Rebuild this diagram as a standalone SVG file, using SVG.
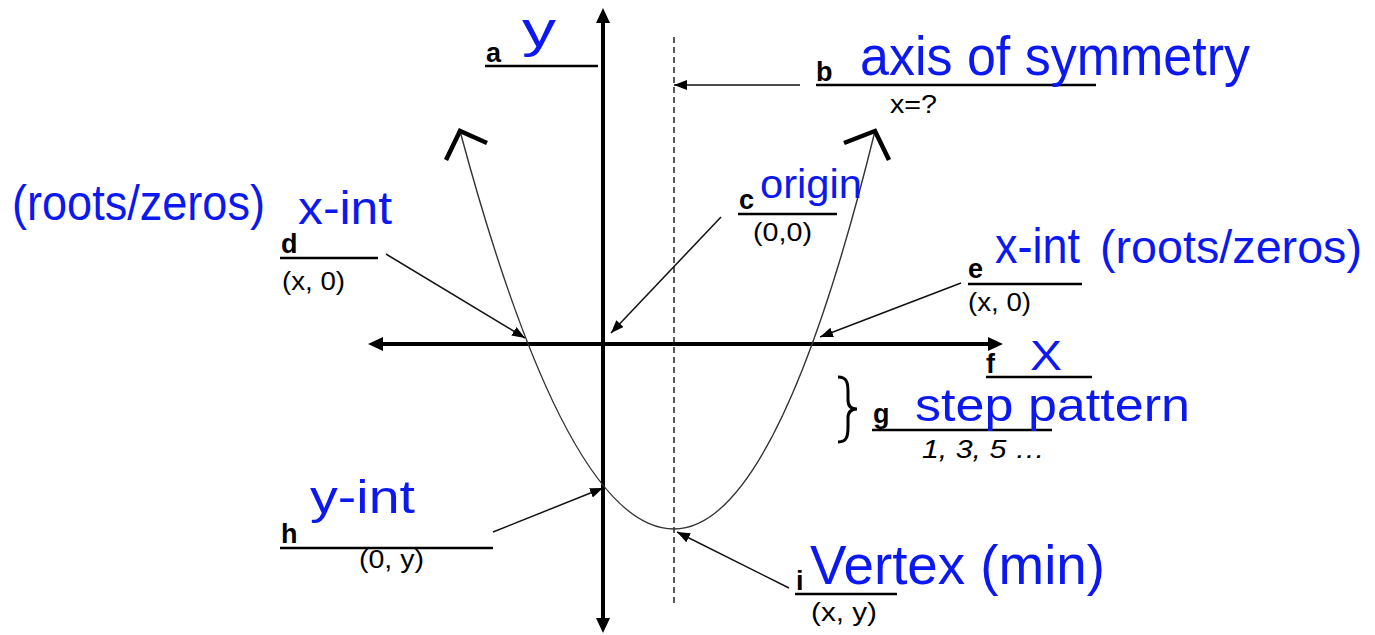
<svg xmlns="http://www.w3.org/2000/svg" width="1375" height="635" viewBox="0 0 1375 635">
<style>
  .lbl { font-family: "Liberation Sans", Arial, sans-serif; font-weight: bold; font-size: 27px; fill: #000; }
  .sub { font-family: "Liberation Sans", Arial, sans-serif; font-size: 26px; fill: #000; }
  .hand { font-family: "Liberation Sans", Arial, sans-serif; fill: #0b18f0; }
  .uline { stroke: #000; stroke-width: 2.5; }
  .conn { stroke: #111; stroke-width: 1.5; fill: none; marker-end: url(#ah); }
  .axis { stroke: #000; stroke-width: 4; fill: none; marker-start: url(#axh); marker-end: url(#axh); }
</style>
<defs>
  <marker id="ah" markerUnits="userSpaceOnUse" markerWidth="14" markerHeight="12" refX="13" refY="5" orient="auto">
    <path d="M0,0 L13,5 L0,10 z" fill="#000"/>
  </marker>
  <marker id="axh" markerUnits="userSpaceOnUse" markerWidth="16" markerHeight="14" refX="5" refY="7" orient="auto-start-reverse">
    <path d="M0,0 L15,7 L0,14 z" fill="#000"/>
  </marker>
</defs>
<rect width="1375" height="635" fill="#fff"/>

<g id="graph">
  <line class="axis" x1="603" y1="18" x2="603" y2="623"/>
  <line class="axis" x1="378" y1="344" x2="993" y2="344"/>
  <line x1="674" y1="37" x2="674" y2="605" stroke="#000" stroke-width="1.3" stroke-dasharray="6 4"/>
  <path d="M460,131 Q567,529 674,529 Q777,529 875,131" fill="none" stroke="#333" stroke-width="1.4"/>
  <path d="M446,160 L460,131 L487,143" fill="none" stroke="#000" stroke-width="4.5"/>
  <path d="M844,143 L875,131 L889,160" fill="none" stroke="#000" stroke-width="4.5"/>
</g>

<g id="connectors">
  <line class="conn" x1="800" y1="85" x2="674" y2="85"/>
  <line class="conn" x1="721" y1="217" x2="611" y2="333"/>
  <line class="conn" x1="386" y1="254" x2="525" y2="338"/>
  <line class="conn" x1="961" y1="283" x2="820" y2="337"/>
  <line class="conn" x1="493" y1="532" x2="603" y2="488"/>
  <line class="conn" x1="789" y1="588" x2="677" y2="532"/>
</g>

<g id="node-a">
  <line class="uline" x1="485" y1="66" x2="598" y2="66"/>
  <text class="lbl" x="486" y="62">a</text>
  <text class="hand" x="522" y="47" font-size="50" textLength="34" lengthAdjust="spacingAndGlyphs">y</text>
</g>

<g id="node-b">
  <line class="uline" x1="816" y1="85" x2="1096" y2="85"/>
  <text class="lbl" x="816" y="81">b</text>
  <text class="sub" x="890" y="113" textLength="47" lengthAdjust="spacingAndGlyphs">x=?</text>
  <text class="hand" x="860" y="75" font-size="56" textLength="390" lengthAdjust="spacingAndGlyphs">axis of symmetry</text>
</g>

<g id="node-c">
  <line class="uline" x1="738" y1="214" x2="837" y2="214"/>
  <text class="lbl" x="739" y="209" font-size="22">c</text>
  <text class="sub" x="753" y="241" textLength="59" lengthAdjust="spacingAndGlyphs">(0,0)</text>
  <text class="hand" x="760" y="198" font-size="40" textLength="102" lengthAdjust="spacingAndGlyphs">origin</text>
</g>

<g id="node-d">
  <line class="uline" x1="280" y1="258" x2="378" y2="258"/>
  <text class="lbl" x="281" y="253">d</text>
  <text class="sub" x="282" y="290" textLength="63" lengthAdjust="spacingAndGlyphs">(x, 0)</text>
  <text class="hand" x="12" y="220" font-size="50" textLength="253" lengthAdjust="spacingAndGlyphs">(roots/zeros)</text>
  <text class="hand" x="298" y="224" font-size="46" textLength="94" lengthAdjust="spacingAndGlyphs">x-int</text>
</g>

<g id="node-e">
  <line class="uline" x1="968" y1="284" x2="1082" y2="284"/>
  <text class="lbl" x="968" y="278">e</text>
  <text class="sub" x="968" y="311" textLength="63" lengthAdjust="spacingAndGlyphs">(x, 0)</text>
  <text class="hand" x="995" y="263" font-size="50" textLength="85" lengthAdjust="spacingAndGlyphs">x-int</text>
  <text class="hand" x="1100" y="263" font-size="46" textLength="262" lengthAdjust="spacingAndGlyphs">(roots/zeros)</text>
</g>

<g id="node-f">
  <line class="uline" x1="986" y1="377" x2="1092" y2="377"/>
  <text class="lbl" x="986" y="373">f</text>
  <text class="hand" x="1030" y="370" font-size="42" textLength="32" lengthAdjust="spacingAndGlyphs">X</text>
</g>

<g id="node-g">
  <path d="M838,377 C847,377 848,383 848,392 L848,400 C848,405 850,409 857,409 C850,409 848,413 848,418 L848,427 C848,436 847,442 838,442" fill="none" stroke="#000" stroke-width="3"/>
  <line class="uline" x1="872" y1="430" x2="1052" y2="430"/>
  <text class="lbl" x="873" y="423">g</text>
  <text class="sub" x="922" y="458" font-style="italic" textLength="123" lengthAdjust="spacingAndGlyphs">1, 3, 5 …</text>
  <text class="hand" x="915" y="421" font-size="46" textLength="275" lengthAdjust="spacingAndGlyphs">step pattern</text>
</g>

<g id="node-h">
  <line class="uline" x1="280" y1="548" x2="493" y2="548"/>
  <text class="lbl" x="281" y="543">h</text>
  <text class="sub" x="359" y="568" textLength="65" lengthAdjust="spacingAndGlyphs">(0, y)</text>
  <text class="hand" x="310" y="513" font-size="46" textLength="105" lengthAdjust="spacingAndGlyphs">y-int</text>
</g>

<g id="node-i">
  <line class="uline" x1="795" y1="594" x2="897" y2="594"/>
  <text class="lbl" x="796" y="590">i</text>
  <text class="sub" x="811" y="621" textLength="66" lengthAdjust="spacingAndGlyphs">(x, y)</text>
  <text class="hand" x="810" y="584" font-size="56" textLength="295" lengthAdjust="spacingAndGlyphs">Vertex (min)</text>
</g>
</svg>
